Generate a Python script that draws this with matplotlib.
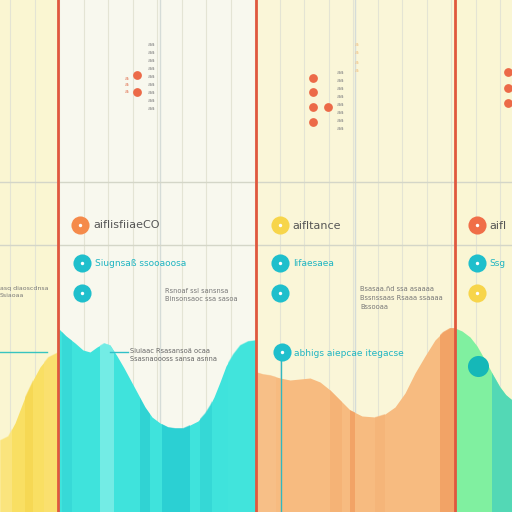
import matplotlib
matplotlib.use("Agg")
import matplotlib.pyplot as plt
import numpy as np

# ---- data (pixel-like units 0..512) ----
yellow_x = [0, 8, 15, 25, 33, 40, 48, 58]
yellow_top = [440, 436, 423, 397, 380, 367, 357, 352]

cyan_x = [58, 66, 75, 83, 90, 97, 104, 110, 117, 124, 131, 138, 145, 152, 160, 168, 175, 183, 190, 198, 205, 210, 214, 220, 226, 233, 240, 248, 256]
cyan_top = [328, 336, 343, 350, 352, 347, 343, 345, 356, 368, 381, 394, 407, 417, 423, 427, 428, 428, 425, 421, 413, 405, 397, 382, 366, 354, 345, 341, 340]

orange_x = [256, 263, 270, 280, 290, 300, 310, 320, 330, 340, 350, 362, 375, 385, 395, 405, 415, 425, 435, 443, 450, 455]
orange_top = [372, 374, 375, 378, 380, 379, 378, 382, 390, 400, 410, 416, 417, 414, 407, 393, 373, 356, 340, 332, 328, 328]

green_x = [455, 462, 470, 477, 485, 492, 500, 506, 512]
green_top = [328, 331, 337, 346, 360, 373, 387, 395, 400]

panel_edges = [0, 58, 256, 455, 512]
panel_colors = ["#faf6d2", "#f8f8ee", "#faf6d8", "#faf6d4"]
divider_x = [58, 256, 455]
hline_y = [182, 245]

mid_labels = ["aiflisfiiaeCO", "Siugnsaß ssooaoosa"]
mid_notes = ["Rsnoaf ssl sansnsa\nBinsonsaoc ssa sasoa"]
wave_note = "Siuiaac Rsasansoä ocaa\nSsasnaoooss sansa asnna"
right_labels = ["aifltance", "lifaesaea"]
right_note = "Bsasaa.ñd ssa asaaaa\nBssnssaas Rsaaa ssaaaa\nBssooaa"
right_marker_label = "abhigs aiepcae itegacse"
right_edge_labels = ["aifl", "Ssg"]
left_note = "asq diaoscdnsa\nSsiaoaa"

fig = plt.figure(figsize=(5.12, 5.12), dpi=100)
ax = fig.add_axes([0, 0, 1, 1])
ax.set_xlim(0, 512)
ax.set_ylim(512, 0)
ax.axis("off")

# backgrounds
for i, c in enumerate(panel_colors):
    ax.axvspan(panel_edges[i], panel_edges[i + 1], color=c, zorder=0)

# faint vertical grid lines
for gx in np.arange(10, 512, 24.5):
    ax.axvline(gx, color="#e4e4d4", lw=0.8, zorder=1)
for gx in [160, 355]:
    ax.axvline(gx, color="#d5dcd8", lw=1.0, zorder=1)
for hy in hline_y:
    ax.axhline(hy, color="#d4d6c8", lw=1.0, zorder=1)


def wave(xs, tops, color, stripes):
    poly = ax.fill_between(xs, tops, 512, color=color, lw=0, zorder=2)
    path = poly.get_paths()[0]
    for (sx, sw, sc, sa) in stripes:
        r = ax.axvspan(sx, sx + sw, color=sc, alpha=sa, lw=0, zorder=3)
        r.set_clip_path(path, ax.transData)


wave(yellow_x, yellow_top, "#f9df63",
     [(0, 12, "#fbe98f", 0.6), (25, 8, "#f5d247", 0.5), (44, 14, "#fbe27a", 0.5)])
wave(cyan_x, cyan_top, "#3fe3dc",
     [(62, 10, "#33d3d4", 0.6), (100, 14, "#8af0ea", 0.7), (140, 10, "#22c4cc", 0.5),
      (162, 28, "#18bfcb", 0.5), (200, 12, "#2ccfd2", 0.5), (228, 28, "#44e6dc", 0.5)])
wave(orange_x, orange_top, "#f7bb80",
     [(256, 20, "#f8c48e", 0.5), (330, 12, "#f5ae70", 0.6), (350, 5, "#f09455", 0.6),
      (375, 10, "#f5b073", 0.5), (440, 15, "#f19a5c", 0.7)])
wave(green_x, green_top, "#80f0a0",
     [(492, 20, "#4fd6b8", 0.9)])

# red dividers
for dx in divider_x:
    ax.axvline(dx, color="#e0583e", lw=2, zorder=5)

txt = dict(zorder=6, va="center", ha="left")


def dot(x, y, color, s=170):
    ax.scatter([x], [y], s=s, color=color, zorder=7, lw=0)
    ax.scatter([x], [y], s=6, color="white", zorder=8, lw=0)


# middle panel legend-like items
dot(80, 225, "#f58a4a")
ax.text(93, 225, mid_labels[0], fontsize=8, color="#555555", **txt)
dot(82, 263, "#1fbfcc")
dot(82, 293, "#1fbfcc")
ax.text(95, 264, mid_labels[1], fontsize=6.5, color="#1fb5c2", **txt)
ax.text(165, 295, mid_notes[0], fontsize=4.8, color="#777777", linespacing=1.5, **txt)
ax.plot([110, 128], [352, 352], color="#30c0c8", lw=1, zorder=6)
ax.text(130, 355, wave_note, fontsize=4.8, color="#666666", linespacing=1.5, **txt)
ax.text(0, 292, left_note, fontsize=4.5, color="#777777", linespacing=1.5, **txt)
ax.plot([0, 47], [352, 352], color="#38c4bf", lw=1, zorder=6)

# right panel items
dot(280, 225, "#f7d54a")
ax.text(292, 226, right_labels[0], fontsize=8, color="#555555", **txt)
dot(280, 263, "#1fbfcc")
dot(280, 293, "#1fbfcc")
ax.text(293, 264, right_labels[1], fontsize=6.5, color="#1fb5c2", **txt)
ax.text(360, 298, right_note, fontsize=4.8, color="#777777", linespacing=1.6, **txt)
ax.plot([281, 281], [352, 512], color="#30b8c0", lw=1, zorder=6)
dot(282, 352, "#1fbfcc")
ax.text(294, 353, right_marker_label, fontsize=6.5, color="#1fb5c2", **txt)

# far right items
dot(477, 225, "#f06e48")
ax.text(489, 226, right_edge_labels[0], fontsize=8, color="#555555", **txt)
dot(477, 263, "#1fbfcc")
ax.text(489, 264, right_edge_labels[1], fontsize=6.5, color="#1fb5c2", **txt)
dot(477, 293, "#f7d54a")
ax.scatter([478], [366], s=230, color="#15b8b8", zorder=6, lw=0)

# top red dots
ax.scatter([137, 137], [75, 92], s=40, color="#ec6a48", zorder=6, lw=0)
ax.scatter([313, 313, 313, 313, 328], [78, 92, 107, 122, 107], s=40, color="#ec6a48", zorder=6, lw=0)
ax.scatter([508, 508, 508], [72, 88, 103], s=40, color="#ec6a48", zorder=6, lw=0)
for yy in np.arange(44, 112, 8):
    ax.text(148, yy, "aa", fontsize=4.5, color="#888888", **txt)
for yy in np.arange(72, 135, 8):
    ax.text(337, yy, "aa", fontsize=4.5, color="#888888", **txt)
for yy in np.arange(44, 80, 9):
    ax.text(355, yy, "a", fontsize=4.5, color="#f0c080", **txt)
ax.text(125, 85, "a\na\na", fontsize=4.5, color="#e07050", linespacing=1.4, **txt)

fig.savefig("out.png", dpi=100)
